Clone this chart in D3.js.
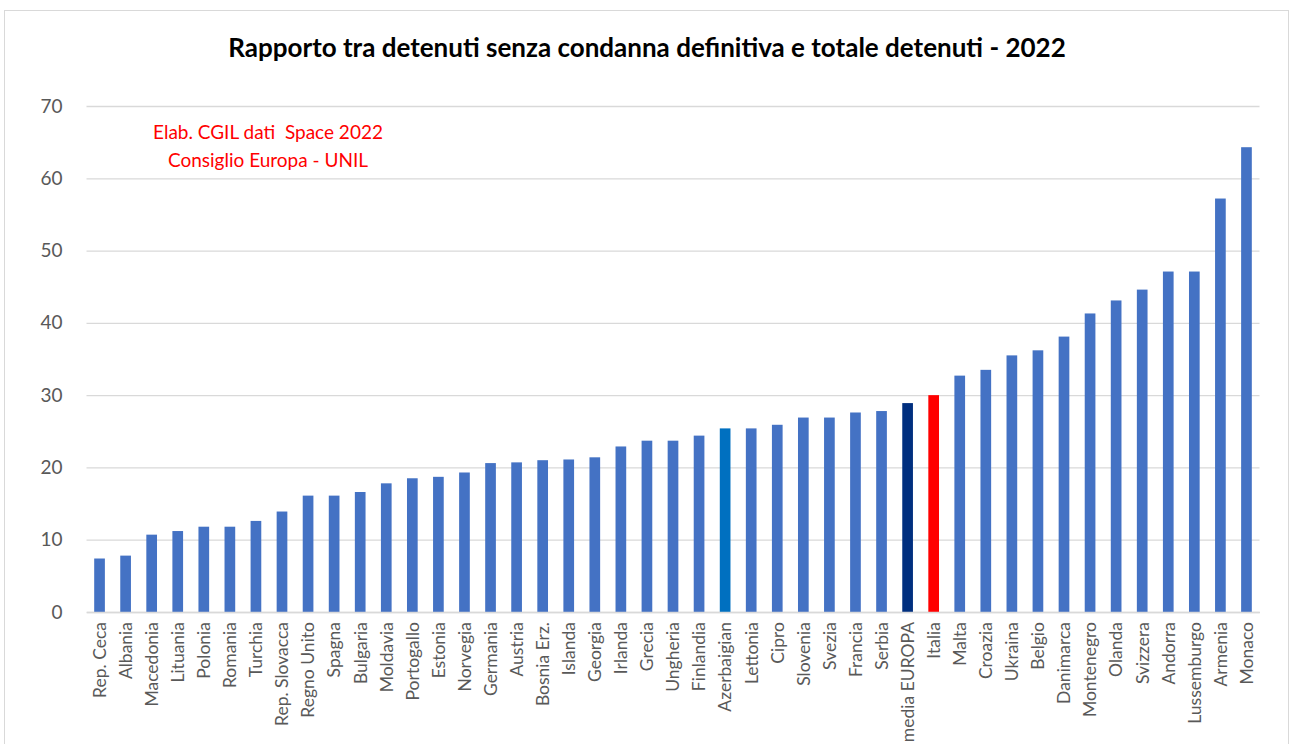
<!DOCTYPE html>
<html>
<head>
<meta charset="utf-8">
<script src="https://cdn.jsdelivr.net/npm/d3@7"></script>
<style>
  body { margin: 0; background: #fff; }
  svg { display: block; }
</style>
</head>
<body>
<div id="chart"></div>
<script>
const countries = ['Rep. Ceca', 'Albania', 'Macedonia', 'Lituania', 'Polonia', 'Romania', 'Turchia',
    'Rep. Slovacca', 'Regno Unito', 'Spagna', 'Bulgaria', 'Moldavia', 'Portogallo', 'Estonia',
    'Norvegia', 'Germania', 'Austria', 'Bosnia Erz.', 'Islanda', 'Georgia', 'Irlanda', 'Grecia',
    'Ungheria', 'Finlandia', 'Azerbaigian', 'Lettonia', 'Cipro', 'Slovenia', 'Svezia', 'Francia',
    'Serbia', 'media EUROPA', 'Italia', 'Malta', 'Croazia', 'Ukraina', 'Belgio', 'Danimarca',
    'Montenegro', 'Olanda', 'Svizzera', 'Andorra', 'Lussemburgo', 'Armenia', 'Monaco'];

const ratios = [7.4, 7.8, 10.7, 11.2, 11.8, 11.8, 12.6,
    13.9, 16.1, 16.1, 16.6, 17.8, 18.5, 18.7,
    19.3, 20.6, 20.7, 21.0, 21.1, 21.4, 22.9, 23.7,
    23.7, 24.4, 25.4, 25.4, 25.9, 26.9, 26.9, 27.6,
    27.8, 28.9, 30.0, 32.7, 33.5, 35.5, 36.2, 38.1,
    41.3, 43.1, 44.6, 47.1, 47.1, 57.2, 64.3];

const yTicks = [0, 10, 20, 30, 40, 50, 60, 70];

// colori speciali per alcune barre
const highlight = {
    'Azerbaigian': '#0070C0',
    'media EUROPA': '#002F7F',
    'Italia': '#FF0000'
};

const title = 'Rapporto tra detenuti senza condanna definitiva e totale detenuti - 2022';
const note = ['Elab. CGIL dati  Space 2022', 'Consiglio Europa - UNIL'];

const data = countries.map((c, i) => ({ name: c, value: ratios[i] }));

let width = 1290,
    height = 744,
    plotLeft = 86.5,
    plotRight = 1259.5,
    plotTop = 106,
    plotBottom = 612;

const svg = d3.select('#chart')
    .append('svg')
        .attr('width', width)
        .attr('height', height)
        .style('font-family', 'Lato, "Open Sans", sans-serif');

// cornice
svg.append('rect')
    .attr('x', 4.5)
    .attr('y', 10.5)
    .attr('width', 1284)
    .attr('height', 760)
    .style('fill', '#fff')
    .style('stroke', '#d9d9d9');

let xScale = d3.scaleBand()
    .domain(countries)
    .range([plotLeft, plotRight])
    .paddingInner(0.59)
    .paddingOuter(0.295);

let yScale = d3.scaleLinear()
    .domain([0, 70])
    .range([plotBottom, plotTop]);

// griglia + etichette asse y
const yAxis = svg.append('g')
    .attr('transform', 'translate(' + plotLeft + ',0)')
    .call(d3.axisLeft(yScale)
        .tickValues(yTicks)
        .tickSize(-(plotRight - plotLeft))
        .tickPadding(24));

yAxis.select('.domain').remove();
yAxis.selectAll('line')
    .style('stroke', '#d9d9d9')
    .style('stroke-width', 1.3);
yAxis.selectAll('text')
    .style('font-size', '19px')
    .style('fill', '#595959')
    .style('font-family', 'Lato, "Open Sans", sans-serif');

// barre
svg.append('g')
    .selectAll('rect').data(data)
    .enter().append('rect')
        .attr('x', d => xScale(d.name))
        .attr('y', d => yScale(d.value))
        .attr('width', xScale.bandwidth())
        .attr('height', d => yScale(0) - yScale(d.value))
        .style('fill', d => highlight[d.name] || '#4472C4');

// asse x
const xAxis = svg.append('g')
    .attr('transform', 'translate(0,' + plotBottom + ')')
    .call(d3.axisBottom(xScale).tickSize(0).tickPadding(0));

xAxis.select('.domain')
    .style('stroke', '#d9d9d9')
    .style('stroke-width', 1.3);
xAxis.selectAll('text')
    .attr('transform', 'rotate(-90)')
    .attr('x', -10)
    .attr('y', 0)
    .attr('dy', '0.36em')
    .style('text-anchor', 'end')
    .style('font-size', '17.5px')
    .style('fill', '#595959')
    .style('font-family', 'Lato, "Open Sans", sans-serif');

// titolo
svg.append('text')
    .attr('x', 647)
    .attr('y', 57)
    .attr('text-anchor', 'middle')
    .style('font-size', '26px')
    .style('font-weight', 'bold')
    .style('fill', '#000')
    .text(title);

// nota fonte
svg.append('g')
    .selectAll('text').data(note)
    .enter().append('text')
        .attr('x', 268)
        .attr('y', (d, i) => 139 + i * 27.5)
        .attr('text-anchor', 'middle')
        .style('font-size', '19px')
        .style('white-space', 'pre')
        .style('fill', '#FF0000')
        .text(d => d);
</script>
</body>
</html>
